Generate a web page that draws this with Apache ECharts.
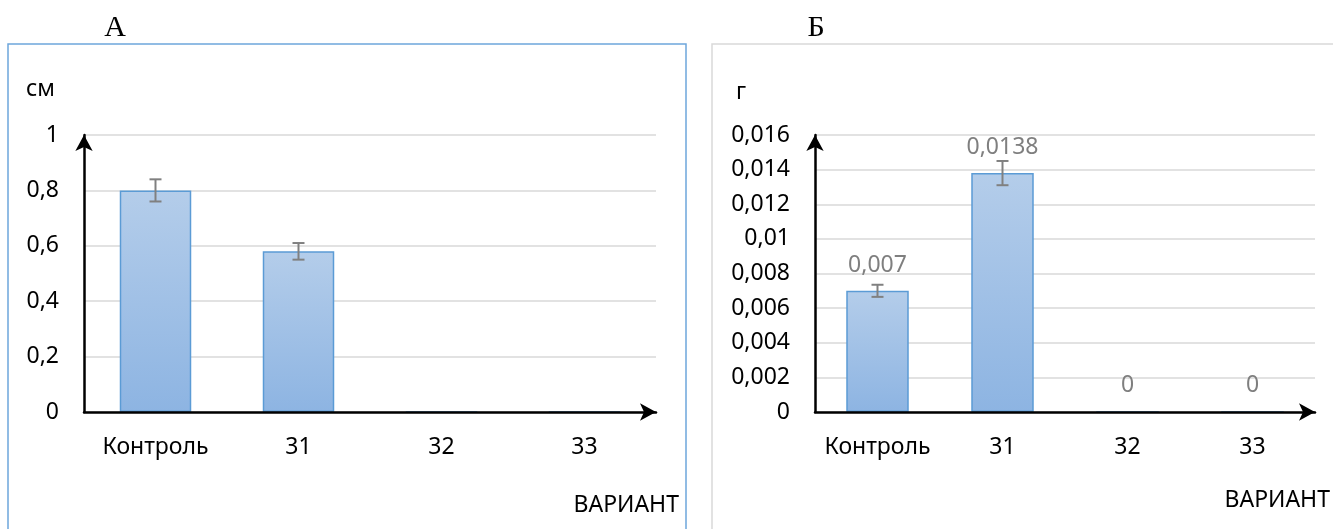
<!DOCTYPE html>
<html>
<head>
<meta charset="utf-8">
<script src="https://cdn.jsdelivr.net/npm/echarts@6/dist/echarts.min.js"></script>
<style>
html,body{margin:0;padding:0;background:#fff;}
#c{width:1333px;height:529px;}
</style>
</head>
<body>
<div id="c"></div>
<script>
// ---- data ----
var categories = ['Контроль', '31', '32', '33'];
var lengthValues = [0.8, 0.58, 0, 0];          // chart А, см
var lengthErrors = [0.04, 0.03, null, null];
var massValues = [0.007, 0.0138, 0, 0];        // chart Б, г
var massErrors = [0.00035, 0.0007, null, null];
var lengthTicks = { min: 0, max: 1, interval: 0.2 };
var massTicks = { min: 0, max: 0.016, interval: 0.002 };

var FONT = 'Noto Sans';
var FS = 23;
var TXT = '#000000';
var GRAY = '#7f7f7f';

function fmt(v) {
  return String(parseFloat(Number(v).toFixed(4))).replace('.', ',');
}
function errData(vals, errs) {
  var out = [];
  for (var i = 0; i < vals.length; i++) {
    if (errs[i] != null) out.push([i, vals[i] - errs[i], vals[i] + errs[i]]);
  }
  return out;
}
function errRender(params, api) {
  var x = api.value(0);
  var lo = api.coord([x, api.value(1)]);
  var hi = api.coord([x, api.value(2)]);
  var hw = 6;
  var st = { stroke: '#808080', lineWidth: 2 };
  return {
    type: 'group',
    children: [
      { type: 'line', shape: { x1: lo[0], y1: lo[1], x2: hi[0], y2: hi[1] }, style: st },
      { type: 'line', shape: { x1: lo[0] - hw, y1: lo[1], x2: lo[0] + hw, y2: lo[1] }, style: st },
      { type: 'line', shape: { x1: hi[0] - hw, y1: hi[1], x2: hi[0] + hw, y2: hi[1] }, style: st }
    ]
  };
}
var barColor = {
  type: 'linear', x: 0, y: 0, x2: 0, y2: 1,
  colorStops: [{ offset: 0, color: '#b4cdea' }, { offset: 1, color: '#8db4e2' }]
};
function xAxisDef(gi) {
  return {
    type: 'category', gridIndex: gi, data: categories, z: 10,
    axisLine: { show: true, lineStyle: { color: '#000', width: 2.5 }, symbol: ['none', 'arrow'], symbolSize: [13, 16] },
    axisTick: { show: false },
    axisLabel: { interval: 0, color: TXT, fontFamily: FONT, fontSize: FS, margin: 24 },
    splitLine: { show: false }
  };
}
function yAxisDef(gi, t) {
  return {
    type: 'value', gridIndex: gi, min: t.min, max: t.max, interval: t.interval,
    axisLine: { show: true, lineStyle: { color: '#000', width: 2.5 }, symbol: ['none', 'arrow'], symbolSize: [13, 16] },
    axisTick: { show: false },
    axisLabel: { color: TXT, fontFamily: FONT, fontSize: FS, margin: 25, formatter: fmt },
    splitLine: { show: true, lineStyle: { color: '#d9d9d9', width: 1.5 } }
  };
}

var chart = echarts.init(document.getElementById('c'), null, { renderer: 'canvas' });
chart.setOption({
  animation: false,
  backgroundColor: '#ffffff',
  grid: [
    { left: 84, right: 677, top: 135, bottom: 117, containLabel: false },
    { left: 815, right: 18, top: 135, bottom: 117, containLabel: false }
  ],
  xAxis: [xAxisDef(0), xAxisDef(1)],
  yAxis: [yAxisDef(0, lengthTicks), yAxisDef(1, massTicks)],
  graphic: [
    { type: 'rect', shape: { x: 8, y: 44, width: 678, height: 500 }, style: { fill: 'none', stroke: '#6ea6dc', lineWidth: 1.5 }, z: -10 },
    { type: 'rect', shape: { x: 712, y: 44, width: 640, height: 500 }, style: { fill: 'none', stroke: '#d9d9d9', lineWidth: 1.5 }, z: -10 },
    { type: 'text', x: 115, y: 28, style: { text: 'А', font: '30px "Liberation Serif"', fill: '#000', textAlign: 'center', textVerticalAlign: 'middle' } },
    { type: 'text', x: 816, y: 28, style: { text: 'Б', font: '30px "Liberation Serif"', fill: '#000', textAlign: 'center', textVerticalAlign: 'middle' } },
    { type: 'text', x: 26, y: 89, style: { text: 'см', font: FS + 'px "Noto Sans"', fill: '#000', textAlign: 'left', textVerticalAlign: 'middle' } },
    { type: 'text', x: 736, y: 92, style: { text: 'г', font: FS + 'px "Noto Sans"', fill: '#000', textAlign: 'left', textVerticalAlign: 'middle' } },
    { type: 'text', x: 679, y: 505, style: { text: 'ВАРИАНТ', font: FS + 'px "Noto Sans"', fill: '#000', textAlign: 'right', textVerticalAlign: 'middle' } },
    { type: 'text', x: 1330, y: 500, style: { text: 'ВАРИАНТ', font: FS + 'px "Noto Sans"', fill: '#000', textAlign: 'right', textVerticalAlign: 'middle' } }
  ],
  series: [
    {
      type: 'bar', xAxisIndex: 0, yAxisIndex: 0, data: lengthValues, barWidth: '50%',
      itemStyle: { color: barColor, borderColor: '#5b9bd5', borderWidth: 1.5 },
      label: { show: false }
    },
    {
      type: 'custom', xAxisIndex: 0, yAxisIndex: 0, data: errData(lengthValues, lengthErrors),
      renderItem: errRender, z: 5
    },
    {
      type: 'bar', xAxisIndex: 1, yAxisIndex: 1, data: massValues, barWidth: '50%',
      itemStyle: { color: barColor, borderColor: '#5b9bd5', borderWidth: 1.5 },
      label: { show: true, position: 'top', distance: 14, color: GRAY, fontFamily: FONT, fontSize: FS, formatter: function (p) { return fmt(p.value); } }
    },
    {
      type: 'custom', xAxisIndex: 1, yAxisIndex: 1, data: errData(massValues, massErrors),
      renderItem: errRender, z: 5
    }
  ]
});
</script>
</body>
</html>
